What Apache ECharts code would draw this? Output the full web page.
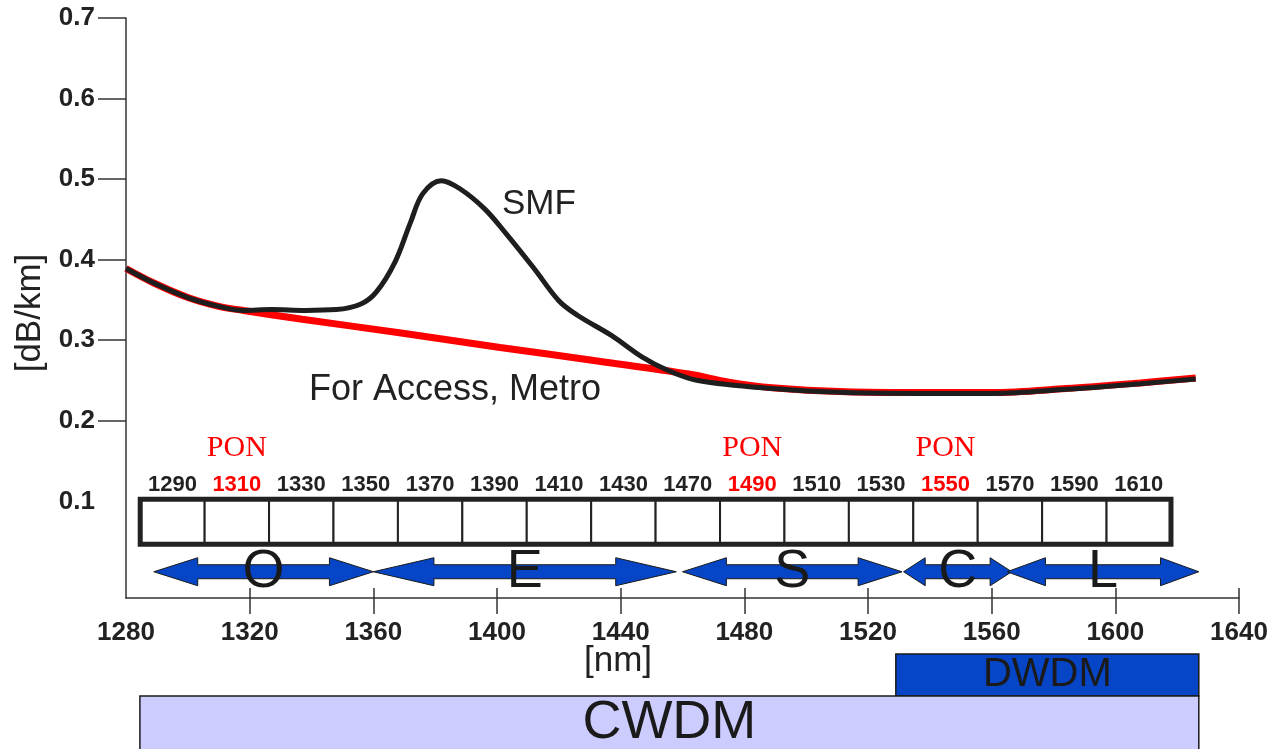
<!DOCTYPE html>
<html>
<head>
<meta charset="utf-8">
<title>Fiber attenuation and WDM bands</title>
<script src="https://cdn.jsdelivr.net/npm/echarts@6/dist/echarts.min.js"></script>
<style>
  html, body { margin: 0; padding: 0; background: #ffffff; }
  #chart { width: 1279px; height: 749px; }
</style>
</head>
<body>
<div id="chart"></div>
<script>
// Attenuation of standard single-mode fiber (water peak near 1383 nm)
const smfWavelength = [1280, 1289, 1300, 1310, 1318, 1327, 1338, 1348, 1356, 1361, 1367, 1372, 1376, 1382,
  1388, 1396, 1403, 1412, 1420, 1426, 1437, 1447, 1455, 1465, 1489, 1513, 1537, 1560, 1584, 1608, 1626];
const smfLoss = [0.389, 0.371, 0.353, 0.342, 0.337, 0.338, 0.337, 0.338, 0.345, 0.360, 0.397, 0.446, 0.482, 0.498,
  0.488, 0.463, 0.432, 0.389, 0.349, 0.331, 0.306, 0.279, 0.263, 0.250, 0.240, 0.235, 0.234, 0.234, 0.239, 0.246, 0.252];

// Low-water-peak fiber for access and metro networks
const accessWavelength = [1280, 1289, 1300, 1310, 1318, 1337, 1369, 1401, 1433, 1462, 1475, 1489, 1513, 1537, 1560, 1584, 1608, 1626];
const accessLoss = [0.389, 0.371, 0.353, 0.342, 0.337, 0.326, 0.309, 0.291, 0.274, 0.258, 0.248, 0.241, 0.236, 0.235, 0.235, 0.240, 0.247, 0.253];

// Axis ticks
const xTicks = [1280, 1320, 1360, 1400, 1440, 1480, 1520, 1560, 1600, 1640];
const xTickMarks = [1320, 1360, 1400, 1440, 1480, 1520, 1560, 1600, 1640];
const yTickLabels = [0.1, 0.2, 0.3, 0.4, 0.5, 0.6, 0.7];
const yTickMarks = [0.2, 0.3, 0.4, 0.5, 0.6, 0.7];

// CWDM channel grid (ITU-T G.694.2 centre wavelengths shown)
const channels = [1290, 1310, 1330, 1350, 1370, 1390, 1410, 1430, 1470, 1490, 1510, 1530, 1550, 1570, 1590, 1610];
const ponChannels = [1310, 1490, 1550];
const channelSpan = [1284.6, 1618];

// Transmission bands
const bandNames = ['O', 'E', 'S', 'C', 'L'];
const bandStart = [1289, 1360, 1460, 1531.5, 1565];
const bandEnd = [1360, 1458, 1531, 1566.5, 1627];

// Multiplexing ranges
const wdmNames = ['DWDM', 'CWDM'];
const wdmStart = [1529, 1284.5];
const wdmEnd = [1627, 1627];

// Vertical placement of the schematic rows, in dB/km on the main axis
const rows = {
  ponLabel: 0.166,
  channelLabel: 0.1205,
  stripTop: 0.1025,
  stripBottom: 0.0467,
  arrow: 0.0126
};
// Row extents of the multiplexing bars on the lower strip axis
const wdmRows = { DWDM: [0, 1], CWDM: [1, 2.4] };

const FONT = '"Liberation Sans", Arial, Helvetica, sans-serif';
const INK = '#222222';
const BLUE = '#0646c6';

const zip = (a, b) => a.map((v, i) => [v, b[i]]);

function renderChannel(params, api) {
  const i = params.dataIndex;
  const w = (channelSpan[1] - channelSpan[0]) / channels.length;
  const x0 = channelSpan[0] + i * w;
  const a = api.coord([x0, rows.stripTop]);
  const b = api.coord([x0 + w, rows.stripBottom]);
  const lbl = api.coord([x0 + w / 2, rows.channelLabel]);
  const hot = ponChannels.indexOf(channels[i]) >= 0;
  const children = [
    { type: 'rect', shape: { x: a[0], y: a[1], width: b[0] - a[0], height: b[1] - a[1] },
      style: { fill: '#ffffff', stroke: INK, lineWidth: 2 } },
    { type: 'text', style: { x: lbl[0], y: lbl[1], text: String(channels[i]), fill: hot ? '#ff0000' : INK,
      font: 'bold 22px ' + FONT, align: 'center', verticalAlign: 'middle' } }
  ];
  if (hot) {
    const p = api.coord([x0 + w / 2, rows.ponLabel]);
    children.push({ type: 'text', style: { x: p[0], y: p[1], text: 'PON', fill: '#ff0000',
      font: '30px "Liberation Serif", "Times New Roman", serif', align: 'center', verticalAlign: 'middle' } });
  }
  return { type: 'group', children };
}

function renderFrame(params, api) {
  const a = api.coord([channelSpan[0], rows.stripTop]);
  const b = api.coord([channelSpan[1], rows.stripBottom]);
  return { type: 'rect', shape: { x: a[0], y: a[1], width: b[0] - a[0], height: b[1] - a[1] },
    style: { fill: null, stroke: INK, lineWidth: 5 } };
}

function renderBand(params, api) {
  const i = params.dataIndex;
  const p0 = api.coord([bandStart[i], rows.arrow]);
  const p1 = api.coord([bandEnd[i], rows.arrow]);
  const x0 = p0[0], x1 = p1[0], cy = p0[1];
  const head = (x1 - x0) * 0.2, hw = 14, sw = 7;
  const pts = [
    [x0, cy], [x0 + head, cy - hw], [x0 + head, cy - sw], [x1 - head, cy - sw], [x1 - head, cy - hw],
    [x1, cy], [x1 - head, cy + hw], [x1 - head, cy + sw], [x0 + head, cy + sw], [x0 + head, cy + hw]
  ];
  return { type: 'group', children: [
    { type: 'polygon', shape: { points: pts }, style: { fill: BLUE, stroke: '#1a1a1a', lineWidth: 1 } },
    { type: 'text', style: { x: (x0 + x1) / 2, y: cy, text: bandNames[i], fill: '#1a1a1a',
      font: '54px ' + FONT, align: 'center', verticalAlign: 'middle' } }
  ] };
}

function renderWdm(params, api) {
  const i = params.dataIndex;
  const r = wdmRows[wdmNames[i]];
  const a = api.coord([wdmStart[i], r[0]]);
  const b = api.coord([wdmEnd[i], r[1]]);
  const isDense = wdmNames[i] === 'DWDM';
  const textY = isDense ? (a[1] + b[1]) / 2 : a[1] + 27;
  return { type: 'group', children: [
    { type: 'rect', shape: { x: a[0], y: a[1], width: b[0] - a[0], height: b[1] - a[1] },
      style: { fill: isDense ? BLUE : '#ccccff', stroke: '#1a1a1a', lineWidth: 1.5 } },
    { type: 'text', style: { x: (a[0] + b[0]) / 2, y: textY, text: wdmNames[i], fill: '#1a1a1a',
      font: (isDense ? '40px ' : '54px ') + FONT, align: 'center', verticalAlign: 'middle' } }
  ] };
}

const chart = echarts.init(document.getElementById('chart'), null, { renderer: 'canvas' });

const axisLineStyle = { color: '#333333', width: 1.5 };
const mainGrid = { left: 126, right: 40, top: 18, bottom: 151 };

chart.setOption({
  animation: false,
  backgroundColor: '#ffffff',
  grid: [
    mainGrid,
    Object.assign({}, mainGrid),
    { left: 126, right: 40, top: 654, height: 42 * 2 }
  ],
  xAxis: [
    {
      gridIndex: 0, type: 'value', min: 1280, max: 1640, interval: 40,
      axisLine: { show: true, onZero: false, lineStyle: axisLineStyle },
      axisTick: { show: true, length: 16, customValues: xTickMarks, lineStyle: axisLineStyle },
      axisLabel: { customValues: xTicks, formatter: v => String(v), margin: 22, color: INK,
        fontSize: 26, fontWeight: 'bold', fontFamily: FONT },
      splitLine: { show: false }
    },
    {
      gridIndex: 1, type: 'value', min: 1280, max: 1640, interval: 40,
      axisLine: { show: false, onZero: false },
      axisTick: { show: true, inside: true, length: 10, customValues: xTickMarks, lineStyle: axisLineStyle },
      axisLabel: { show: false },
      splitLine: { show: false }
    },
    { gridIndex: 2, type: 'value', min: 1280, max: 1640, show: false }
  ],
  yAxis: [
    {
      gridIndex: 0, type: 'value', min: -0.02, max: 0.7,
      axisLine: { show: true, onZero: false, lineStyle: axisLineStyle },
      axisTick: { show: true, length: 28, customValues: yTickMarks, lineStyle: axisLineStyle },
      axisLabel: { customValues: yTickLabels, formatter: v => v.toFixed(1), margin: 31, color: INK,
        fontSize: 26, fontWeight: 'bold', fontFamily: FONT },
      splitLine: { show: false }
    },
    { gridIndex: 1, type: 'value', min: -0.02, max: 0.7, show: false },
    { gridIndex: 2, type: 'value', min: 0, max: 2, inverse: true, show: false }
  ],
  graphic: [
    { type: 'text', x: 30, y: 313, rotation: Math.PI / 2,
      style: { text: '[dB/km]', font: '35px ' + FONT, fill: INK, align: 'center', verticalAlign: 'middle' } },
    { type: 'text', x: 618, y: 661,
      style: { text: '[nm]', font: '35px ' + FONT, fill: INK, align: 'center', verticalAlign: 'middle' } },
    { type: 'text', x: 502, y: 204,
      style: { text: 'SMF', font: '35px ' + FONT, fill: INK, align: 'left', verticalAlign: 'middle' } },
    { type: 'text', x: 309, y: 390,
      style: { text: 'For Access, Metro', font: '36px ' + FONT, fill: INK, align: 'left', verticalAlign: 'middle' } }
  ],
  series: [
    {
      name: 'For Access, Metro', type: 'line', xAxisIndex: 0, yAxisIndex: 0,
      data: zip(accessWavelength, accessLoss), smooth: 0.35, showSymbol: false,
      lineStyle: { color: '#ff0000', width: 7 }, z: 2
    },
    {
      name: 'SMF', type: 'line', xAxisIndex: 0, yAxisIndex: 0,
      data: zip(smfWavelength, smfLoss), smooth: 0.35, showSymbol: false,
      lineStyle: { color: '#1e1e1e', width: 5 }, z: 3
    },
    {
      name: 'CWDM channels', type: 'custom', xAxisIndex: 0, yAxisIndex: 0, clip: false,
      data: channels.map((c, i) => [i]), renderItem: renderChannel, z: 4
    },
    {
      name: 'Channel frame', type: 'custom', xAxisIndex: 0, yAxisIndex: 0, clip: false,
      data: [[0]], renderItem: renderFrame, z: 5
    },
    {
      name: 'Bands', type: 'custom', xAxisIndex: 0, yAxisIndex: 0, clip: false,
      data: bandNames.map((n, i) => [i]), renderItem: renderBand, z: 4
    },
    {
      name: 'WDM', type: 'custom', xAxisIndex: 2, yAxisIndex: 2, clip: false,
      data: wdmNames.map((n, i) => [i]), renderItem: renderWdm, z: 4
    }
  ]
});
</script>
</body>
</html>
